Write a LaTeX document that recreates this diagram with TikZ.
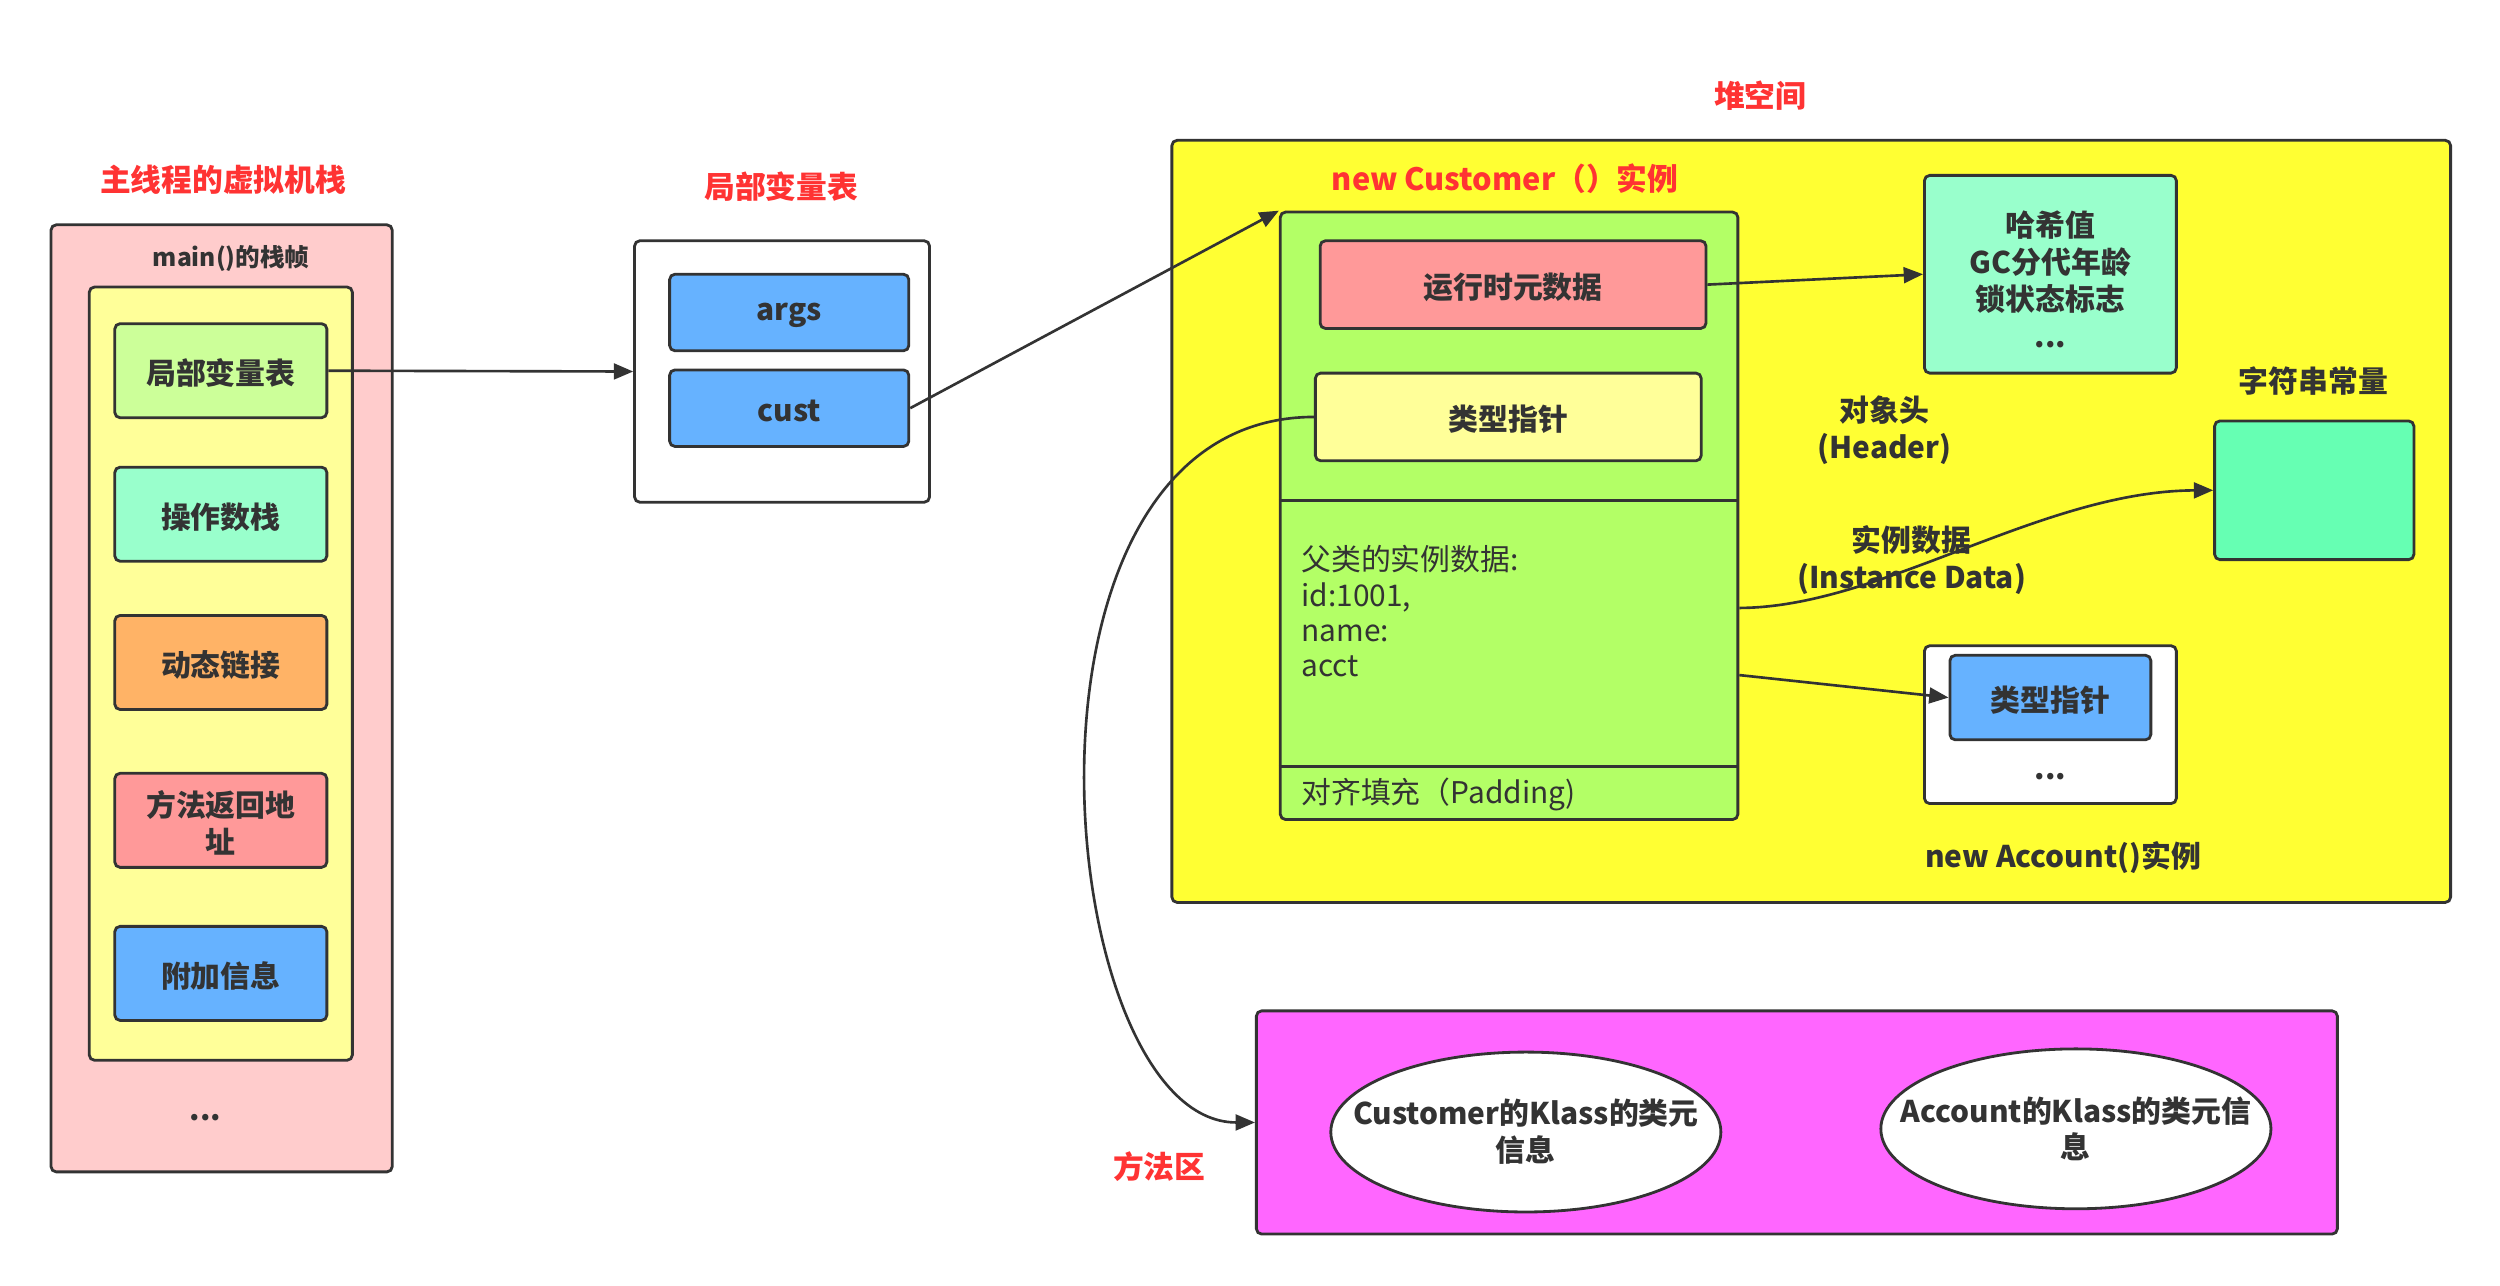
\documentclass[tikz,border=0pt]{standalone}
\usepackage{fontspec}
\setmainfont{Noto Sans CJK SC}
\usetikzlibrary{shapes.geometric,arrows.meta,fit,calc}
\definecolor{ln}{HTML}{333333}
\definecolor{redc}{HTML}{FF3333}
\definecolor{pinkc}{HTML}{FFCCCC}
\definecolor{lyel}{HTML}{FFFF99}
\definecolor{lgreen}{HTML}{CCFF99}
\definecolor{mint}{HTML}{99FFCC}
\definecolor{orng}{HTML}{FFB366}
\definecolor{salmon}{HTML}{FF9999}
\definecolor{blu}{HTML}{66B2FF}
\definecolor{heapc}{HTML}{FFFF33}
\definecolor{grn}{HTML}{B3FF66}
\definecolor{strc}{HTML}{66FFB3}
\definecolor{mag}{HTML}{FF66FF}
\begin{document}
\begin{tikzpicture}[x=0.031888cm,y=-0.031888cm,
  box/.style={draw=ln, line width=1.6pt, rounded corners=3pt, inner sep=0pt},
  lbl/.style={text=ln, inner sep=0pt, font=\bfseries\fontsize{17}{21}\selectfont, align=center},
  inb/.style={lbl, yshift=-1.5pt},
  redt/.style={text=redc, inner sep=0pt, font=\bfseries\fontsize{17.5}{22}\selectfont},
  arr/.style={draw=ln, line width=1.5pt, -{Triangle[length=11pt,width=9pt]}},
  ell/.style={ellipse, draw=ln, line width=1.6pt, fill=white, inner sep=0pt,
    minimum width=222pt, minimum height=91pt}]
\fill[white] (0,0) rectangle (1568,806);
\useasboundingbox (0,0) rectangle (1568,806);

% ---- stack
\node[redt] (stacktitle) at (140,113) {主线程的虚拟机栈};
\node[box, fill=pinkc, fit={(32,141) (246,735)}] (stack) {};
\node[lbl, font=\bfseries\fontsize{14}{17}\selectfont] (frametitle) at (145,162) {main()的栈帧};
\node[box, fill=lyel, fit={(56,180) (221,665)}] (frame) {};
\node[box, fill=lgreen, fit={(72,203) (205,262)}] (lvt) {};
\node[inb] (lvtt) at (lvt.center) {局部变量表};
\node[box, fill=mint, fit={(72,293) (205,352)}] (ops) {};
\node[inb] (opst) at (ops.center) {操作数栈};
\node[box, fill=orng, fit={(72,386) (205,445)}] (dyn) {};
\node[inb] (dynt) at (dyn.center) {动态链接};
\node[box, fill=salmon, fit={(72,485) (205,544)}] (ret) {};
\node[inb] (rett) at (ret.center) {方法返回地\\址};
\node[box, fill=blu, fit={(72,581) (205,640)}] (add) {};
\node[inb] (addt) at (add.center) {附加信息};
\node[lbl] (dots1) at (129,701) {...};

% ---- local variable table
\node[redt] (lvttitle) at (490,117) {局部变量表};
\node[box, fill=white, fit={(398,151) (583,315)}] (lvtbox) {};
\node[box, fill=blu, fit={(420,172) (570,220)}] (args) {};
\node[inb] (argst) at (args.center) {args};
\node[box, fill=blu, fit={(420,232) (570,280)}] (cust) {};
\node[inb] (custt) at (cust.center) {cust};

% ---- heap
\node[redt] (heaptitle) at (1104,60) {堆空间};
\node[box, fill=heapc, fit={(735,88) (1537,566)}] (heap) {};
\node[redt] (custtitle) at (944,112) {new Customer（）实例};
\node[box, fill=grn, fit={(803,133) (1090,514)}] (green) {};
\draw[ln, line width=1.6pt] ($(green.north west)!0.4751!(green.south west)$) -- ($(green.north east)!0.4751!(green.south east)$);
\draw[ln, line width=1.6pt] ($(green.north west)!0.9108!(green.south west)$) -- ($(green.north east)!0.9108!(green.south east)$);
\node[box, fill=salmon, fit={(828,151) (1070,206)}] (rt) {};
\node[inb] (rtt) at (rt.center) {运行时元数据};
\node[box, fill=lyel, fit={(825,234) (1067,289)}] (tp) {};
\node[inb] (tpt) at (tp.center) {类型指针};
\node[anchor=north west, text=ln, inner sep=0pt, align=left, font=\fontsize{17}{20}\selectfont] (data) at (816,342) {父类的实例数据:\\id:1001,\\name:\\acct};
\node[anchor=west, text=ln, inner sep=0pt, font=\fontsize{17}{20}\selectfont] (pad) at (816,498) {对齐填充（Padding)};

\node[box, fill=mint, fit={(1207,110) (1365,234)}] (hash) {};
\node[lbl] (hasht) at (1286,175) {哈希值\\GC分代年龄\\锁状态标志\\...};
\node[lbl] (hdr) at (1182,270) {对象头\\(Header)};
\node[lbl] (strtitle) at (1451,239) {字符串常量};
\node[box, fill=strc, fit={(1389,264) (1514,351)}] (str) {};
\node[lbl] (inst) at (1199,351) {实例数据\\(Instance Data)};
\node[box, fill=white, fit={(1207,405) (1365,504)}] (acct) {};
\node[box, fill=blu, fit={(1223,411) (1349,464)}] (tp2) {};
\node[inb] (tp2t) at (tp2.center) {类型指针};
\node[lbl] (dots2) at (1286,487) {...};
\node[lbl] (accttitle) at (1294,538) {new Account()实例};

% ---- method area
\node[box, fill=mag, fit={(788,634) (1466,774)}] (method) {};
\node[redt] (methodtitle) at (727,732) {方法区};
\node[ell] (e1) at (957,710) {};
\node[lbl] (e1t) at (e1.center) {Customer的Klass的类元\\信息};
\node[ell] (e2) at (1302,708) {};
\node[lbl] (e2t) at (e2.center) {Account的Klass的类元信\\息};

% ---- connectors
\draw[arr] (lvt.east) -- (lvtbox.west);
\draw[arr] (cust.east) -- (green.north west);
\draw[arr] (rt.east) -- (hash.west);
\draw[arr] (tp.west) .. controls (620,262) and (660,704) .. (method.west);
\draw[arr] ($(green.north east)!0.651!(green.south east)$) .. controls (1180,381) and (1280,308) .. (str.west);
\draw[arr] ($(green.north east)!0.761!(green.south east)$) -- (tp2.west);
\end{tikzpicture}
\end{document}
